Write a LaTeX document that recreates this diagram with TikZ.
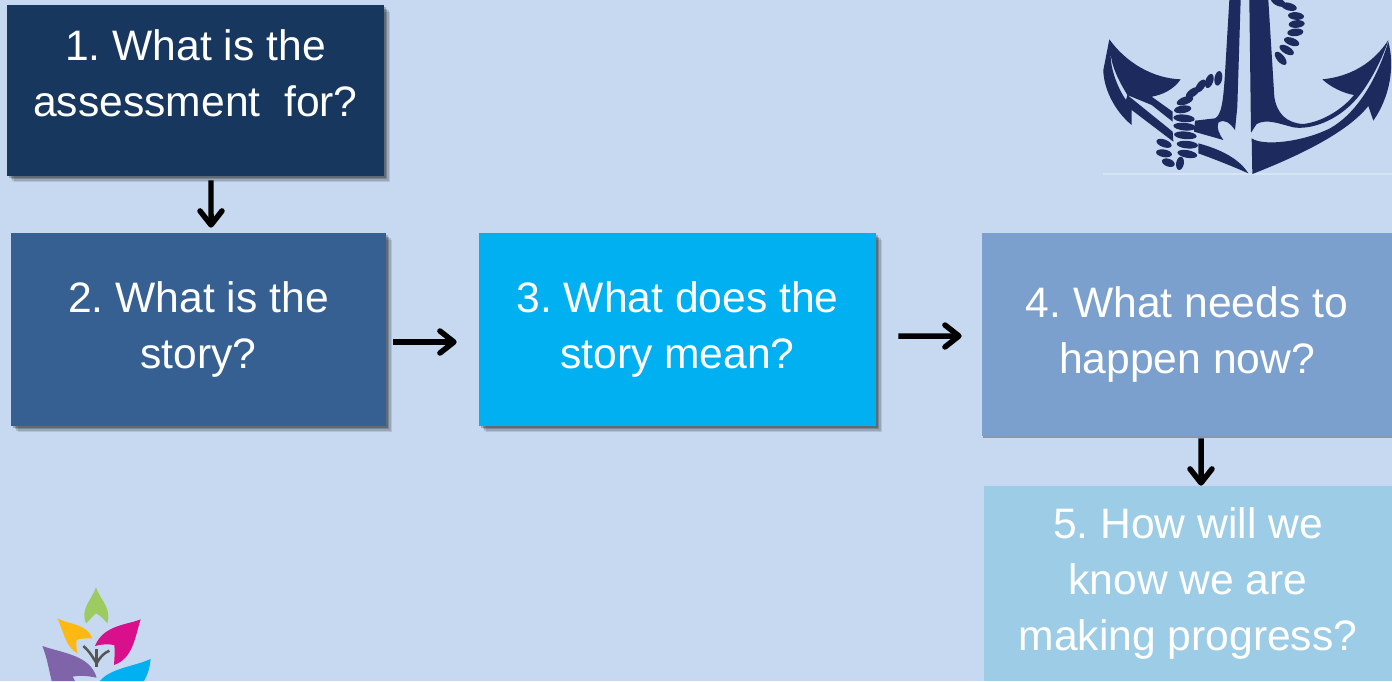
\documentclass[tikz,border=0pt]{standalone}
\usepackage{fontspec}
\setmainfont{Liberation Sans}
\usetikzlibrary{arrows.meta}
\usetikzlibrary{shadows}
\definecolor{pagebg}{HTML}{C6D9F1}
\definecolor{stepone}{HTML}{17375E}
\definecolor{steptwo}{HTML}{376092}
\definecolor{stepthree}{HTML}{00B0F0}
\definecolor{stepfour}{HTML}{7BA0CD}
\definecolor{stepfive}{HTML}{9DCDE6}
\definecolor{anchorblue}{HTML}{1C2A5E}
\definecolor{leafgreen}{HTML}{9DCB5F}
\definecolor{leafyellow}{HTML}{FDB913}
\definecolor{leafpink}{HTML}{DA0F8B}
\definecolor{leafpurple}{HTML}{8064A9}
\definecolor{sprig}{HTML}{555555}
\tikzset{
    stepbox/.style={
        draw=none,
        inner sep=0pt,
        align=center,
        text=white,
        font=\frenchspacing\fontsize{24.25}{31.9}\selectfont},
    softshadow/.style={
        drop shadow={shadow xshift=.13cm,shadow yshift=-.13cm,opacity=.10,fill=black},
        drop shadow={shadow xshift=.10cm,shadow yshift=-.10cm,opacity=.14,fill=black},
        drop shadow={shadow xshift=.07cm,shadow yshift=-.07cm,opacity=.18,fill=black},
        drop shadow={shadow xshift=.04cm,shadow yshift=-.04cm,opacity=.22,fill=black}},
    flow/.style={
        draw,
        line width=.11cm,
        -{Straight Barb[length=.28cm,width=.44cm,line width=.11cm,round]}},
    rope/.style={
        fill=anchorblue}}

\begin{document}
\begin{tikzpicture}[x=.02cm,y=-.02cm]
    \fill[pagebg] (0,0) rectangle (1392,681);
    \useasboundingbox (0,0) rectangle (1392,681);

    \node[stepbox,softshadow,fill=stepone,minimum width=7.54cm,minimum height=3.42cm] (b1) at (195.5,90.5) {1. What is the\\assessment~~for?\\[-12.5pt]};
    \node[stepbox,softshadow,fill=steptwo,minimum width=7.5cm,minimum height=3.86cm] (b2) at (198.5,329.5) {2. What is the\\story?};
    \node[stepbox,softshadow,fill=stepthree,minimum width=7.94cm,minimum height=3.86cm] (b3) at (677.5,329.5) {3. What does the\\story mean?};
    \node[stepbox,drop shadow={shadow xshift=.02cm,shadow yshift=-.05cm,opacity=.3,fill=black},fill=stepfour,minimum width=8.2cm,minimum height=4.06cm] (b4) at (1187,334.5) {4. What needs to\\happen now?};
    \node[stepbox,fill=stepfive,minimum width=8.16cm,minimum height=3.9cm] (b5) at (1188,583.5) {5. How will we\\know we are\\making progress?};

    \draw[flow,shorten <=.08cm,shorten >=.10cm] ([xshift=.31cm]b1.south) -- ([xshift=.25cm]b2.north);
    \draw[flow,shorten <=.14cm,shorten >=.44cm] ([yshift=-.25cm]b2.east) -- ([yshift=-.25cm]b3.west);
    \draw[flow,shorten <=.44cm,shorten >=.40cm] ([yshift=-.13cm]b3.east) -- ([yshift=-.03cm]b4.west);
    \draw[flow,shorten <=.04cm] ([xshift=.28cm]b4.south) -- ([xshift=.26cm]b5.north);

    % anchor
    \begin{scope}[shift={(1090,0)},x=.02cm/3,y=-.02cm/3]
        \draw[pagebg!70!white,line width=.03cm] (40,522) -- (906,522);
        \fill[anchorblue] (418,0) -- (452,0) -- (442,320) -- (435,390) .. controls (420,370) and (405,355) .. (385,368) .. controls (378,385) and (390,405) .. (400,420) -- (312,395) -- (315,362) -- (375,355) .. controls (395,345) and (400,300) .. (405,220) -- cycle;
        \fill[anchorblue] (478,0) -- (535,0) -- (553,290) .. controls (560,340) and (590,370) .. (640,372) .. controls (700,365) and (760,325) .. (792,285) .. controls (760,280) and (720,260) .. (697,238) .. controls (780,230) and (850,190) .. (895,120) .. controls (880,170) and (840,250) .. (800,296) .. controls (740,365) and (660,390) .. (610,382) .. controls (570,372) and (530,355) .. (500,372) -- (483,398) -- cycle;
        \fill[anchorblue] (895,125) .. controls (915,200) and (900,290) .. (850,362) -- (835,318) .. controls (770,400) and (620,470) .. (487,522) -- (485,415) .. controls (520,440) and (640,425) .. (720,385) .. controls (800,340) and (860,240) .. (895,125) -- cycle;
        \fill[anchorblue] (58,118) .. controls (110,190) and (190,235) .. (272,238) .. controls (250,270) and (215,285) .. (185,290) -- (248,335) -- (248,365) -- (185,315) -- (112,285) .. controls (85,240) and (65,200) .. (62,160) .. controls (60,200) and (80,260) .. (108,300) -- (112,285) -- (248,395) -- (250,425) -- (125,330) -- (125,375) .. controls (70,330) and (40,260) .. (40,210) -- cycle;
        \fill[anchorblue] (325,430) .. controls (400,450) and (450,480) .. (475,520) .. controls (430,500) and (380,480) .. (325,460) -- cycle;
        \foreach \px/\py/\pa/\rlen in {565/6/-25/24,597/20/-15/24,618/48/-5/24,620/72/5/24,616/97/5/24,605/125/-20/24,590/150/-30/24,572/175/-50/24,385/235/80/22,358/243/70/22,332/258/55/22,308/278/35/24,285/302/20/26,278/328/8/26,282/355/-5/32,284/380/-5/34,286/406/-5/34,292/434/-5/32,292/462/-10/30,270/490/80/20,235/488/-20/20,222/460/-10/24,222/430/-20/24}
            \fill[rope,rotate around={\pa:(\px,\py)}] (\px,\py) ellipse [x radius=\rlen,y radius=11.5];
    \end{scope}

    % flower
    \begin{scope}[shift={(20,570)},x=.02cm/3,y=-.02cm/3]
        \fill[leafgreen] (228,52) .. controls (240,90) and (275,110) .. (262,160) .. controls (250,145) and (238,135) .. (228,130) .. controls (220,135) and (210,150) .. (198,160) .. controls (180,115) and (215,90) .. (228,52) -- cycle;
        \fill[leafyellow] (112,145) .. controls (150,165) and (200,160) .. (217,205) .. controls (200,205) and (180,205) .. (170,210) .. controls (168,225) and (170,240) .. (172,250) .. controls (135,230) and (130,180) .. (112,145) -- cycle;
        \fill[leafpink] (362,148) .. controls (320,165) and (250,165) .. (225,228) .. controls (245,222) and (265,222) .. (283,225) .. controls (285,250) and (283,270) .. (282,285) .. controls (340,265) and (345,200) .. (362,148) -- cycle;
        \fill[leafpurple] (67,228) .. controls (130,250) and (210,255) .. (230,323) .. controls (205,318) and (180,315) .. (158,320) -- (165,333) -- (95,333) .. controls (85,290) and (80,260) .. (67,228) -- cycle;
        \fill[stepthree] (392,267) .. controls (340,290) and (270,295) .. (240,333) -- (372,333) .. controls (385,310) and (390,290) .. (392,267) -- cycle;
        \draw[sprig,line width=.07cm] (230,238) -- (230,290);
        \draw[sprig,line width=.05cm] (190,228) .. controls (210,245) and (220,265) .. (230,280) .. controls (240,262) and (250,250) .. (268,242);
    \end{scope}
\end{tikzpicture}
\end{document}
